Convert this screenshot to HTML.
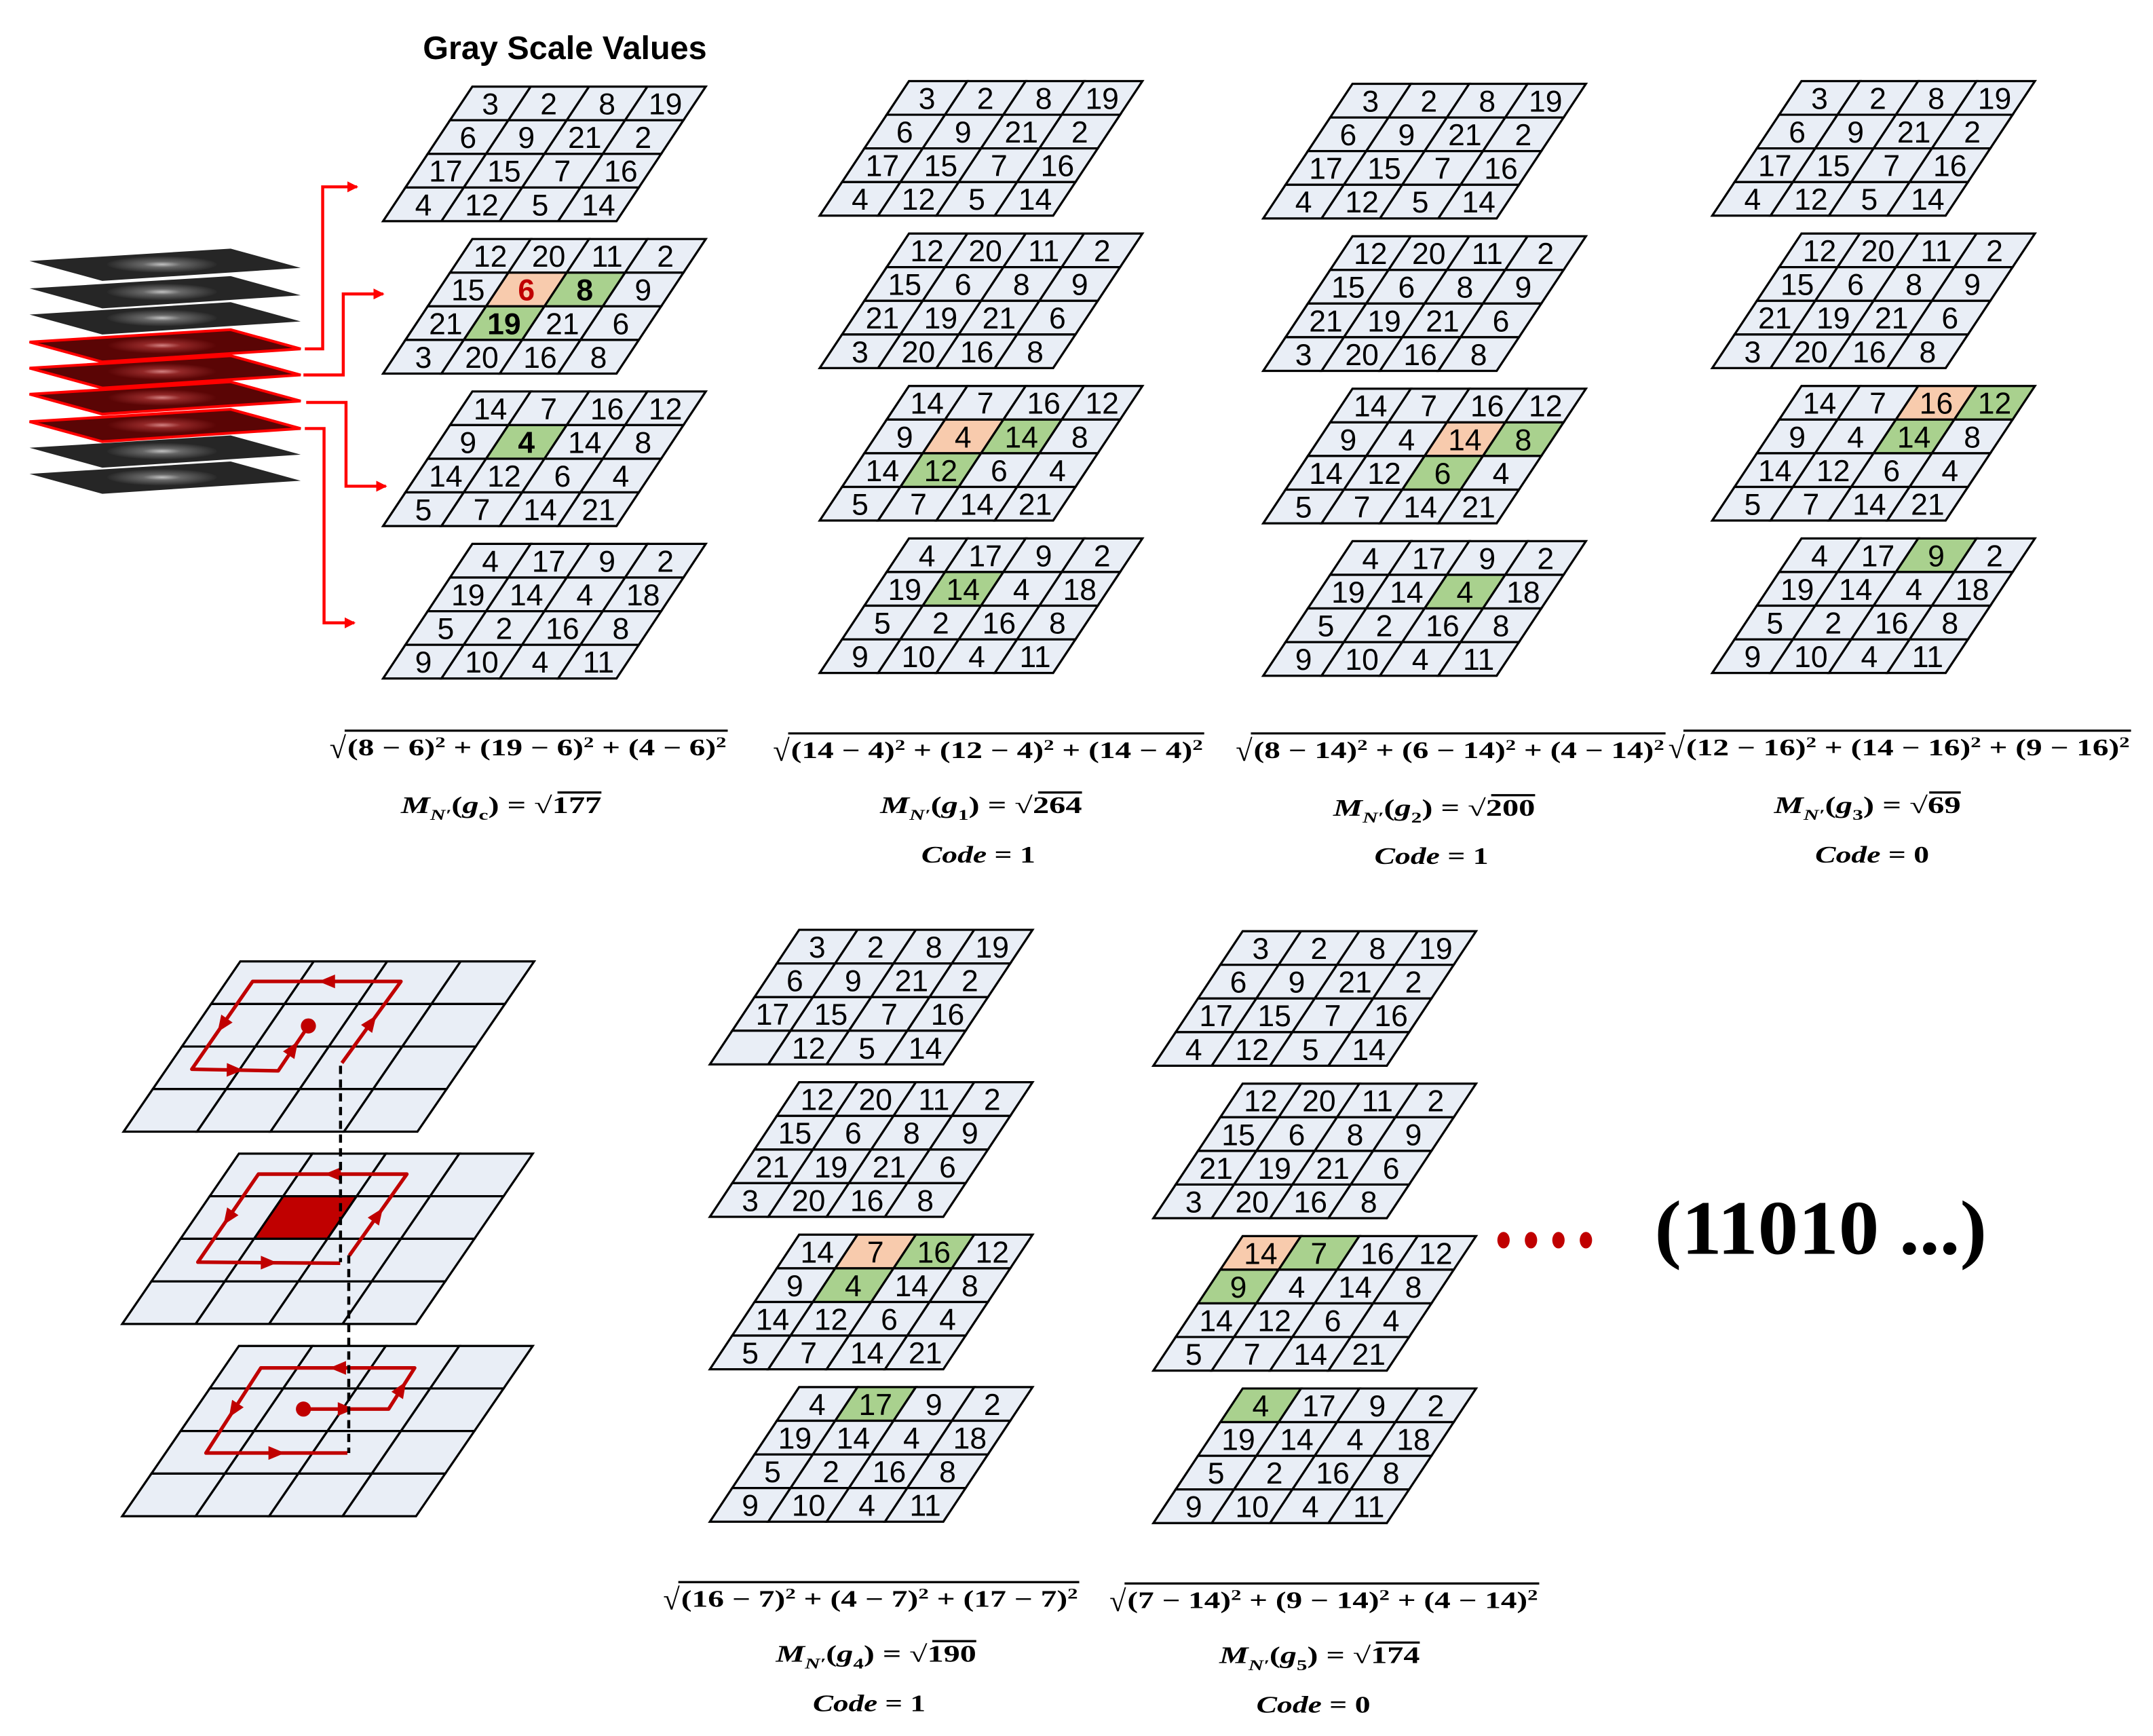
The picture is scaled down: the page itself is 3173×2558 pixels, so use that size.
<!DOCTYPE html>
<html><head><meta charset="utf-8"><style>
html,body{margin:0;padding:0;background:#fff;}
#wrap{width:3173px;height:2558px;overflow:hidden;}
svg{display:block;}
</style></head><body>
<div id="wrap">
<svg id="fig" width="3173" height="2558" viewBox="0 0 1568 1264" xmlns="http://www.w3.org/2000/svg">
<defs>
<marker id="ah" markerWidth="8" markerHeight="8" refX="7" refY="4" orient="auto" markerUnits="userSpaceOnUse"><path d="M0,0 L8,4 L0,8 z" fill="#ff0000"/></marker>
<radialGradient id="gs" cx="0.5" cy="0.5" r="0.5"><stop offset="0" stop-color="#e8e8e8"/><stop offset="0.35" stop-color="#777"/><stop offset="1" stop-color="#2a2a2a"/></radialGradient>
<radialGradient id="rs" cx="0.5" cy="0.5" r="0.5"><stop offset="0" stop-color="#f0a0a0"/><stop offset="0.35" stop-color="#a03030"/><stop offset="1" stop-color="#5a0505"/></radialGradient>
</defs>
<text x="308" y="43" font-family="Liberation Sans, sans-serif" font-weight="bold" font-size="24">Gray Scale Values</text>
<g id="stack"></g>
<g id="arrows"></g>
<g id="grids"></g>
<g id="loops"></g>
<g id="formulas"></g>
<g>
<ellipse cx="1095" cy="903" rx="4.5" ry="6" fill="#c00000"/>
<ellipse cx="1115" cy="903" rx="4.5" ry="6" fill="#c00000"/>
<ellipse cx="1135" cy="903" rx="4.5" ry="6" fill="#c00000"/>
<ellipse cx="1155" cy="903" rx="4.5" ry="6" fill="#c00000"/>
</g>
<text x="1205" y="913" font-family="Liberation Serif, serif" font-weight="bold" font-size="56" textLength="242" lengthAdjust="spacingAndGlyphs">(11010 ...)</text>
</svg>
</div>
<script>
const NS='http://www.w3.org/2000/svg';
// grid values (rows of 4x4 per layer)
const layer1=[[3,2,8,19],[6,9,21,2],[17,15,7,16],[4,12,5,14]];
const layer1b=[[3,2,8,19],[6,9,21,2],[17,15,7,16],['',12,5,14]];
const layer2=[[12,20,11,2],[15,6,8,9],[21,19,21,6],[3,20,16,8]];
const layer3=[[14,7,16,12],[9,4,14,8],[14,12,6,4],[5,7,14,21]];
const layer4=[[4,17,9,2],[19,14,4,18],[5,2,16,8],[9,10,4,11]];
// highlights: [layer,row,col,type]
const hlC=[[1,1,1,'o'],[1,1,2,'g'],[1,2,1,'g'],[2,1,1,'g']];
const hl1=[[2,1,1,'o'],[2,1,2,'g'],[2,2,1,'g'],[3,1,1,'g']];
const hl2=[[2,1,2,'o'],[2,1,3,'g'],[2,2,2,'g'],[3,1,2,'g']];
const hl3=[[2,0,2,'o'],[2,0,3,'g'],[2,1,2,'g'],[3,0,2,'g']];
const hl4=[[2,0,1,'o'],[2,0,2,'g'],[2,1,1,'g'],[3,0,1,'g']];
const hl5=[[2,0,0,'o'],[2,0,1,'g'],[2,1,0,'g'],[3,0,0,'g']];

const cols=[
 {x:344,y:63,layers:[layer1,layer2,layer3,layer4],hl:hlC,bold:true,name:'center'},
 {x:662,y:59,layers:[layer1,layer2,layer3,layer4],hl:hl1,bold:false,name:'g1'},
 {x:985,y:61,layers:[layer1,layer2,layer3,layer4],hl:hl2,bold:false,name:'g2'},
 {x:1312,y:59,layers:[layer1,layer2,layer3,layer4],hl:hl3,bold:false,name:'g3'},
 {x:582,y:677,layers:[layer1b,layer2,layer3,layer4],hl:hl4,bold:false,name:'g4'},
 {x:905,y:678,layers:[layer1,layer2,layer3,layer4],hl:hl5,bold:false,name:'g5'}
];
const cw=42.5, rh=24.5, sk=16.25, gstep=111;
function mk(tag,attrs,parent){const e=document.createElementNS(NS,tag);for(const k in attrs)e.setAttribute(k,attrs[k]);if(parent)parent.appendChild(e);return e;}
const G=document.getElementById('grids');
cols.forEach((col,ci)=>{
 col.layers.forEach((data,li)=>{
  const g=mk('g',{},G);
  
  
  const x0=col.x, y0=col.y+li*gstep;
  for(let r=0;r<4;r++)for(let c=0;c<4;c++){
   const h=col.hl.find(a=>a[0]===li&&a[1]===r&&a[2]===c);
   const fill=h?(h[3]==='o'?'#f8cbad':'#a9d18e'):'#e9eef6';
   const tx=x0+c*cw-r*sk, ty=y0+r*rh;
   const p=mk('polygon',{points:`${tx},${ty} ${tx+cw},${ty} ${tx+cw-sk},${ty+rh} ${tx-sk},${ty+rh}`,fill:fill,stroke:'#000','stroke-width':1.6},g);
   
   
   const t=mk('text',{x:tx+cw/2-sk/2,y:ty+rh/2+8,'text-anchor':'middle','font-family':'Liberation Sans, sans-serif','font-size':22},g);
   if(h&&col.bold){t.setAttribute('font-weight','bold');if(h[3]==='o')t.setAttribute('fill','#c00000');}
   t.textContent=data[r][c];
   
   
  }
 });
});
// image stack
const S=document.getElementById('stack');
const slabY=[181,201,220,240,259,278,298,317,336];
slabY.forEach((y,i)=>{
 const red=i>=3&&i<=6;
 const g=mk('g',{},S);
 
 
 mk('polygon',{points:`21.5,${y+9} 168,${y} 219,${y+14} 74.5,${y+23.5}`,fill:red?'#5a0505':'#262626',stroke:red?'#ff0000':'none','stroke-width':2},g);
 mk('ellipse',{cx:118,cy:y+11.5,rx:40,ry:6,fill:red?'url(#rs)':'url(#gs)',opacity:0.8},g);
});
// arrows
const A=document.getElementById('arrows');
[[[222,254],[235,254],[235,136],[260,136]],[[221,273],[250,273],[250,214],[279,214]],[[223,293],[252,293],[252,354],[281,354]],[[222,312],[236,312],[236,453.5],[258,453.5]]].forEach(pts=>{
 const pl=mk('polyline',{points:pts.map(p=>p.join(',')).join(' '),fill:'none',stroke:'#ff0000','stroke-width':2.2,'marker-end':'url(#ah)'},A);
 
 
});
// bottom-left schematic grids
const L=document.getElementById('loops');
const bw=214, bh=124, bs=85;
[[175,700],[174,840],[174,980]].forEach((tl,k)=>{
 const g=mk('g',{},L);
 
 
 const ccw=bw/4, rr=bh/4, ss=bs/4;
 for(let r=0;r<4;r++)for(let c=0;c<4;c++){
  const tx=tl[0]+c*ccw-r*ss, ty=tl[1]+r*rr;
  const fill=(k===1&&r===1&&c===1)?'#c00000':'#e9eef6';
  mk('polygon',{points:`${tx},${ty} ${tx+ccw},${ty} ${tx+ccw-ss},${ty+rr} ${tx-ss},${ty+rr}`,fill:fill,stroke:'#000','stroke-width':1.6},g);
 }
});
function loop(pts,name){
 const pl=mk('polyline',{points:pts.map(p=>p.join(',')).join(' '),fill:'none',stroke:'#c00000','stroke-width':2.6,'stroke-linejoin':'round'},L);
 
 
 for(let i=0;i<pts.length-1;i++){
  const a=pts[i],b=pts[i+1];const mx=(a[0]+b[0])/2,my=(a[1]+b[1])/2;
  const ang=Math.atan2(b[1]-a[1],b[0]-a[0])*180/Math.PI;
  if(Math.hypot(b[0]-a[0],b[1]-a[1])<25)continue;
  mk('path',{d:'M6,0 L-6,-5 L-6,5 z',fill:'#c00000',transform:`translate(${mx},${my}) rotate(${ang})`},L);
 }
}
loop([[249,774],[292,714.6],[184,714.6],[139.7,778.5],[202.6,779.7],[224.6,747]],'loop-upper');
mk('circle',{cx:224.6,cy:747,r:5.5,fill:'#c00000'},L);
loop([[254.4,914.2],[296.3,854.9],[188.2,854.9],[144.1,919],[247.8,919.8]],'loop-middle');
loop([[221,1026],[283,1026],[302,996],[190,996],[150,1058],[253,1058]],'loop-lower');
mk('circle',{cx:221,cy:1026,r:5.5,fill:'#c00000'},L);
mk('line',{x1:248,y1:776,x2:248,y2:919,stroke:'#000','stroke-width':2.2,'stroke-dasharray':'6 4'},L);
mk('line',{x1:254,y1:914,x2:254,y2:1058,stroke:'#000','stroke-width':2.2,'stroke-dasharray':'6 4'},L);
// formulas
const F=document.getElementById('formulas');
const sqrtTerms=[
 [[8,6],[19,6],[4,6]],[[14,4],[12,4],[14,4]],[[8,14],[6,14],[4,14]],[[12,16],[14,16],[9,16]],[[16,7],[4,7],[17,7]],[[7,14],[9,14],[4,14]]
];
const mVals=['177','264','200','69','190','174'];
const mSubs=['c','1','2','3','4','5'];
const codes=[null,1,1,0,1,0];
const sqrtPos=[[240,530,550],[563,877,552],[900,1213,552],[1215,1552,550],[483,786,1170],[808,1121,1171]];
const mPos=[[292,438,592],[641,788,592],[971,1118,594],[1292,1428,592],[565,711,1210],[888,1034,1211]];
const codePos=[null,[671,754,628],[1001,1084,629],[1322,1405,628],[592,674,1246],[915,998,1247]];
const fontF='Liberation Serif, serif';
sqrtTerms.forEach((terms,i)=>{
 const [x1,x2,y]=sqrtPos[i];
 const g=mk('g',{},F);
 
 
 const r=mk('text',{x:x1,y:y+2,'font-family':fontF,'font-size':22},g);r.textContent='√';
 mk('line',{x1:x1+11,y1:y-18,x2:x2,y2:y-18,stroke:'#000','stroke-width':1.6},g);
 const t=mk('text',{x:x1+13,y:y,'font-family':fontF,'font-weight':'bold','font-size':17,textLength:x2-x1-14,lengthAdjust:'spacingAndGlyphs'},g);
 terms.forEach((tm,j)=>{
  const s1=mk('tspan',{},t);s1.textContent=(j?' + ':'')+'('+tm[0]+' − '+tm[1]+')';
  const s2=mk('tspan',{'baseline-shift':'super','font-size':11},t);s2.textContent='2';
 });
 const [m1,m2,my]=mPos[i];
 const mg=mk('text',{x:m1,y:my,'font-family':fontF,'font-weight':'bold','font-size':17,textLength:m2-m1,lengthAdjust:'spacingAndGlyphs'},g);
 let s=mk('tspan',{'font-style':'italic'},mg);s.textContent='M';
 s=mk('tspan',{'font-style':'italic','font-size':11,dy:5},mg);s.textContent='N′';
 s=mk('tspan',{dy:-5},mg);s.textContent='(';
 s=mk('tspan',{'font-style':'italic'},mg);s.textContent='g';
 s=mk('tspan',{'font-size':11,dy:5},mg);s.textContent=mSubs[i];
 s=mk('tspan',{dy:-5},mg);s.textContent=') = √'+mVals[i];
 const ow=mVals[i].length*9+5;
 mk('line',{x1:m2-ow,y1:my-15,x2:m2,y2:my-15,stroke:'#000','stroke-width':1.6},g);
 if(codes[i]!==null){
  const [c1,c2,cy]=codePos[i];
  const ct=mk('text',{x:c1,y:cy,'font-family':fontF,'font-weight':'bold','font-size':17,textLength:c2-c1,lengthAdjust:'spacingAndGlyphs'},g);
  s=mk('tspan',{'font-style':'italic'},ct);s.textContent='Code';
  s=mk('tspan',{},ct);s.textContent=' = '+codes[i];
 }
});
</script>
</body></html>
